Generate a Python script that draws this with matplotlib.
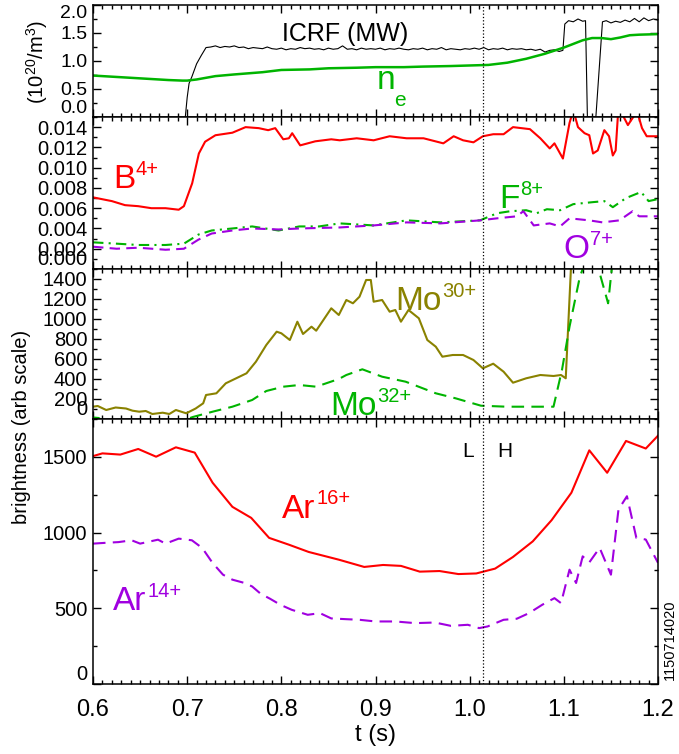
import numpy as np
import matplotlib.pyplot as plt
from matplotlib.ticker import MultipleLocator, FormatStrFormatter

plt.rcParams['font.family'] = ['Liberation Sans', 'DejaVu Sans']
plt.rcParams['mathtext.fontset'] = 'custom'
plt.rcParams['mathtext.rm'] = 'Liberation Sans'
plt.rcParams['mathtext.it'] = 'Liberation Sans:italic'

# ---- panel 1: ICRF power and line density ----
icrf_t = [0.698, 0.700, 0.702, 0.705, 0.710, 0.715, 0.720, 0.725, 0.730, 0.735, 0.740, 0.745,
          0.750, 0.755, 0.760, 0.765, 0.770, 0.775, 0.780, 0.785, 0.790, 0.795, 0.800, 0.805,
          0.810, 0.815, 0.820, 0.825, 0.830, 0.835, 0.840, 0.845, 0.850, 0.855, 0.860, 0.865,
          0.870, 0.875, 0.880, 0.885, 0.890, 0.895, 0.900, 0.905, 0.910, 0.915, 0.920, 0.925,
          0.930, 0.935, 0.940, 0.945, 0.950, 0.955, 0.960, 0.965, 0.970, 0.975, 0.980, 0.985,
          0.990, 0.995, 1.000, 1.005, 1.010, 1.015, 1.020, 1.025, 1.030, 1.035, 1.040, 1.045,
          1.050, 1.055, 1.060, 1.065, 1.070, 1.075, 1.080, 1.085, 1.090, 1.095, 1.099, 1.101,
          1.105, 1.110, 1.115, 1.120, 1.123, 1.125, 1.134, 1.141, 1.145, 1.150, 1.155, 1.160,
          1.165, 1.170, 1.175, 1.180, 1.185, 1.190, 1.195, 1.200]
icrf = [0.00, 0.35, 0.60, 0.72, 0.95, 1.10, 1.24, 1.25, 1.27, 1.24, 1.26, 1.25,
        1.27, 1.24, 1.25, 1.22, 1.24, 1.23, 1.22, 1.25, 1.22, 1.21, 1.23, 1.20,
        1.22, 1.21, 1.24, 1.22, 1.23, 1.21, 1.22, 1.20, 1.23, 1.21, 1.22, 1.27,
        1.21, 1.22, 1.20, 1.23, 1.21, 1.22, 1.21, 1.23, 1.20, 1.22, 1.21, 1.23,
        1.21, 1.20, 1.22, 1.21, 1.23, 1.20, 1.22, 1.21, 1.24, 1.20, 1.22, 1.21,
        1.20, 1.22, 1.21, 1.23, 1.21, 1.24, 1.20, 1.22, 1.21, 1.23, 1.20, 1.22,
        1.21, 1.22, 1.20, 1.21, 1.19, 1.21, 1.16, 1.19, 1.20, 1.17, 1.19, 1.66,
        1.72, 1.70, 1.75, 1.71, 1.72, 0.00, 0.00, 1.70, 1.72, 1.68, 1.71, 1.69,
        1.73, 1.70, 1.76, 1.70, 1.77, 1.72, 1.75, 1.73]

ne_t = [0.60, 0.62, 0.65, 0.68, 0.695, 0.70, 0.71, 0.72, 0.73, 0.75, 0.78, 0.80, 0.83,
        0.85, 0.88, 0.90, 0.93, 0.95, 0.98, 1.00, 1.02, 1.04, 1.06, 1.08, 1.10, 1.12,
        1.13, 1.14, 1.15, 1.16, 1.17, 1.18, 1.20]
ne = [0.74, 0.72, 0.69, 0.66, 0.65, 0.65, 0.67, 0.70, 0.73, 0.76, 0.80, 0.84, 0.85,
      0.87, 0.88, 0.89, 0.89, 0.90, 0.91, 0.92, 0.93, 0.97, 1.04, 1.13, 1.24, 1.37,
      1.41, 1.41, 1.39, 1.42, 1.46, 1.47, 1.48]

# ---- panel 2: B4+, F8+, O7+ ----
b4_t = [0.600, 0.6145, 0.620, 0.634, 0.648, 0.662, 0.677, 0.691, 0.6965, 0.7053, 0.7124,
        0.719, 0.730, 0.748, 0.762, 0.776, 0.786, 0.7935, 0.802, 0.808, 0.8115, 0.820,
        0.836, 0.853, 0.862, 0.880, 0.898, 0.915, 0.933, 0.951, 0.972, 0.983, 0.993,
        1.004, 1.014, 1.025, 1.036, 1.046, 1.064, 1.075, 1.085, 1.090, 1.099, 1.106,
        1.110, 1.115, 1.122, 1.127, 1.131, 1.136, 1.143, 1.148, 1.152, 1.155, 1.158,
        1.168, 1.173, 1.178, 1.183, 1.188, 1.200]
b4 = [0.00707, 0.0068, 0.0067, 0.0063, 0.0062, 0.0060, 0.0060, 0.00585, 0.0062, 0.00846,
      0.0114, 0.01256, 0.0132, 0.01345, 0.0140, 0.0139, 0.0137, 0.0139, 0.0128, 0.0129,
      0.0134, 0.0122, 0.0126, 0.0128, 0.0127, 0.0129, 0.0127, 0.0131, 0.0129, 0.0129,
      0.0124, 0.0131, 0.0127, 0.0125, 0.0131, 0.0133, 0.0133, 0.0140, 0.0138, 0.0129,
      0.0119, 0.0124, 0.0109, 0.0144, 0.0157, 0.0140, 0.0134, 0.0132, 0.0114, 0.0117,
      0.0137, 0.0131, 0.0112, 0.0117, 0.0160, 0.0142, 0.0149, 0.0155, 0.0139, 0.0131,
      0.0131]

f8_t = [0.600, 0.625, 0.648, 0.677, 0.6965, 0.712, 0.726, 0.748, 0.769, 0.797, 0.819,
        0.840, 0.862, 0.898, 0.933, 0.969, 1.011, 1.029, 1.043, 1.060, 1.071, 1.082,
        1.096, 1.110, 1.131, 1.143, 1.152, 1.166, 1.182, 1.190, 1.200]
f8 = [0.00263, 0.0025, 0.00237, 0.00237, 0.0025, 0.0034, 0.0038, 0.0040, 0.0042, 0.0038,
      0.0042, 0.0042, 0.0045, 0.0043, 0.0048, 0.0046, 0.0048, 0.0055, 0.0057, 0.0058,
      0.0055, 0.0059, 0.0058, 0.0064, 0.0066, 0.0067, 0.0061, 0.0070, 0.0076, 0.0067,
      0.0069]

o7_t = [0.600, 0.625, 0.648, 0.677, 0.6965, 0.712, 0.726, 0.748, 0.769, 0.797, 0.819,
        0.862, 0.898, 0.933, 0.969, 1.011, 1.029, 1.050, 1.057, 1.068, 1.085, 1.096,
        1.106, 1.127, 1.141, 1.159, 1.173, 1.180, 1.200]
o7 = [0.0022, 0.0020, 0.0021, 0.0019, 0.0020, 0.0029, 0.0035, 0.0038, 0.0040, 0.0039,
      0.0040, 0.0041, 0.0043, 0.0046, 0.0045, 0.0048, 0.0050, 0.0052, 0.0057, 0.0043,
      0.0045, 0.0042, 0.0050, 0.0048, 0.0046, 0.0048, 0.0057, 0.0052, 0.0052]

# ---- panel 3: Mo30+, Mo32+ ----
mo30_t = [0.600, 0.605, 0.614, 0.624, 0.635, 0.642, 0.649, 0.656, 0.663, 0.674, 0.681,
          0.688, 0.699, 0.709, 0.717, 0.720, 0.731, 0.741, 0.752, 0.763, 0.773, 0.784,
          0.795, 0.800, 0.809, 0.817, 0.823, 0.832, 0.837, 0.847, 0.853, 0.861, 0.869,
          0.876, 0.883, 0.890, 0.895, 0.898, 0.907, 0.915, 0.921, 0.927, 0.935, 0.946,
          0.955, 0.964, 0.971, 0.982, 0.993, 1.004, 1.014, 1.025, 1.036, 1.046, 1.060,
          1.075, 1.089, 1.097, 1.102, 1.108, 1.150, 1.200]
mo30 = [123, 130, 90, 115, 105, 83, 73, 80, 50, 63, 50, 90, 57, 105, 157, 240, 257, 357,
        407, 457, 573, 740, 873, 857, 790, 973, 850, 923, 883, 1023, 1107, 1040, 1190,
        1157, 1223, 1390, 1390, 1173, 1190, 1073, 1090, 973, 1090, 1007, 790, 723, 623,
        640, 640, 590, 507, 553, 473, 363, 407, 440, 430, 440, 407, 1600, 1700, 1700]

mo32_t = [0.600, 0.606, 0.612, 0.690, 0.700, 0.706, 0.727, 0.748, 0.769, 0.784, 0.802,
          0.819, 0.837, 0.861, 0.869, 0.886, 0.907, 0.932, 0.964, 0.985, 1.012, 1.039,
          1.089, 1.098, 1.106, 1.117, 1.124, 1.135, 1.147, 1.152, 1.200]
mo32 = [15, 10, -30, -30, 0, 20, 73, 123, 190, 280, 323, 340, 323, 400, 440, 497, 423,
        373, 257, 207, 133, 123, 123, 490, 923, 1423, 1600, 1560, 1157, 1600, 1700]

# ---- panel 4: Ar16+, Ar14+ ----
ar16_t = [0.600, 0.610, 0.629, 0.648, 0.667, 0.688, 0.708, 0.727, 0.748, 0.768, 0.787,
          0.808, 0.829, 0.861, 0.888, 0.908, 0.927, 0.947, 0.968, 0.988, 1.007, 1.027,
          1.046, 1.067, 1.087, 1.108, 1.127, 1.146, 1.166, 1.187, 1.200]
ar16 = [1505, 1523, 1515, 1552, 1501, 1563, 1528, 1329, 1170, 1097, 965, 920, 872, 821,
        773, 786, 780, 742, 746, 726, 730, 762, 839, 942, 1082, 1263, 1543, 1395, 1605,
        1555, 1640]

ar14_t = [0.600, 0.615, 0.627, 0.641, 0.650, 0.669, 0.677, 0.691, 0.705, 0.716, 0.727,
          0.738, 0.748, 0.761, 0.769, 0.778, 0.788, 0.799, 0.811, 0.828, 0.841, 0.853,
          0.869, 0.883, 0.900, 0.921, 0.942, 0.963, 0.980, 0.998, 1.010, 1.019, 1.036,
          1.050, 1.063, 1.077, 1.090, 1.097, 1.106, 1.113, 1.120, 1.127, 1.138, 1.150,
          1.158, 1.167, 1.177, 1.187, 1.200]
ar14 = [927, 933, 937, 949, 927, 953, 927, 960, 949, 898, 799, 722, 689, 667, 644, 596,
        563, 523, 490, 457, 468, 433, 428, 424, 413, 413, 402, 406, 384, 391, 369, 380,
        424, 431, 468, 523, 567, 534, 755, 667, 843, 803, 899, 722, 1152, 1240, 965, 954,
        800]

t_lh = 1.014

RED = '#ff0000'
GREEN = '#00b400'
PURPLE = '#a000e0'
OLIVE = '#8a8200'

fig = plt.figure(figsize=(6.79, 7.54), dpi=100)
L, W = 0.1370, 0.8321
ax1 = fig.add_axes([L, 0.84483, W, 0.14854])
ax2 = fig.add_axes([L, 0.64324, W, 0.20159])
ax3 = fig.add_axes([L, 0.44430, W, 0.19894])
ax4 = fig.add_axes([L, 0.09284, W, 0.35146])
axes = [ax1, ax2, ax3, ax4]

ax1.plot(icrf_t, icrf, color='black', lw=0.8)
ax1.plot(ne_t, ne, color=GREEN, lw=1.8)

ax2.plot(b4_t, b4, color=RED, lw=1.5)
ax2.plot(f8_t, f8, color=GREEN, lw=1.5, dashes=(5, 2.5, 1, 2.5))
ax2.plot(o7_t, o7, color=PURPLE, lw=1.5, dashes=(5, 3))

ax3.plot(mo30_t, mo30, color=OLIVE, lw=1.5)
ax3.plot(mo32_t, mo32, color=GREEN, lw=1.5, dashes=(6, 3.5))

ax4.plot(ar16_t, ar16, color=RED, lw=1.5)
ax4.plot(ar14_t, ar14, color=PURPLE, lw=1.5, dashes=(6, 3.5))

ylims = [(0, 2.0), (0, 0.015), (0, 1500), (0, 1750)]
yticks = [[0.0, 0.5, 1.0, 1.5, 2.0],
          [0.0, 0.002, 0.004, 0.006, 0.008, 0.010, 0.012, 0.014],
          [0, 200, 400, 600, 800, 1000, 1200, 1400],
          [0, 500, 1000, 1500]]
yminor = [0.25, 0.001, 100, 250]
yfmt = ['%.1f', '%.3f', '%d', '%d']
ysize = [14, 14.5, 14.5, 14.5]

for i, ax in enumerate(axes):
    ax.set_xlim(0.6, 1.2)
    ax.set_ylim(*ylims[i])
    ax.xaxis.set_major_locator(MultipleLocator(0.1))
    ax.xaxis.set_minor_locator(MultipleLocator(0.01))
    ax.set_yticks(yticks[i])
    ax.yaxis.set_minor_locator(MultipleLocator(yminor[i]))
    ax.yaxis.set_major_formatter(FormatStrFormatter(yfmt[i]))
    ax.tick_params(which='both', direction='in', top=True, right=True, width=1.0)
    ax.tick_params(which='major', length=6)
    ax.tick_params(which='minor', length=3)
    ax.tick_params(axis='y', labelsize=ysize[i], pad=4)
    for s in ax.spines.values():
        s.set_linewidth(1.1)
    if i < 3:
        ax.tick_params(axis='x', labelbottom=False)
    ax.yaxis.get_major_ticks()[0].label1.set_verticalalignment('bottom')
    ax.axvline(t_lh, color='black', lw=0.9, ls=':')

# top label of the top panel sits below its tick
ax1.yaxis.get_major_ticks()[-1].label1.set_verticalalignment('top')
ax4.tick_params(axis='x', labelsize=17, pad=11)


def ion_label(ax, t, v, base, sup, color, size=24, sup_size=14.5):
    txt = ax.text(t, v, base, color=color, fontsize=size, ha='left', va='baseline')
    ax.annotate(sup, xy=(1.0, 1.0), xycoords=txt, xytext=(0.5, 3),
                textcoords='offset points', color=color, fontsize=sup_size,
                ha='left', va='top')


ax1.text(0.801, 1.36, 'ICRF (MW)', fontsize=18, ha='left', va='baseline')
ax1.text(0.9013, 0.494, 'n', color=GREEN, fontsize=24, ha='left', va='baseline')
ax1.text(0.920, 0.196, 'e', color=GREEN, fontsize=15, ha='left', va='baseline')

ion_label(ax2, 0.6212, 0.0080, 'B', '4+', RED)
ion_label(ax2, 1.031, 0.0060, 'F', '8+', GREEN)
ion_label(ax2, 1.099, 0.00109, 'O', '7+', PURPLE)

ion_label(ax3, 0.9207, 1090, 'Mo', '30+', OLIVE)
ion_label(ax3, 0.8517, 40, 'Mo', '32+', GREEN)

ion_label(ax4, 0.8007, 1099, 'Ar', '16+', RED)
ion_label(ax4, 0.6212, 490, 'Ar', '14+', PURPLE)
ax4.text(0.9918, 1497, 'L', fontsize=15, ha='left', va='baseline')
ax4.text(1.0289, 1497, 'H', fontsize=15, ha='left', va='baseline')

fig.text(0.0545, 0.9178, r'(10$^{20}$/m$^3$)', rotation=90, fontsize=14.5,
         ha='center', va='center')
fig.text(0.0324, 0.4337, 'brightness (arb scale)', rotation=90, fontsize=14.5,
         ha='center', va='center')
fig.text(0.5523, 0.0252, 't (s)', fontsize=17, ha='center', va='center')
fig.text(0.9867, 0.098, '1150714020', rotation=90, fontsize=10.5,
         ha='center', va='bottom')

fig.savefig('out.png', dpi=100)
